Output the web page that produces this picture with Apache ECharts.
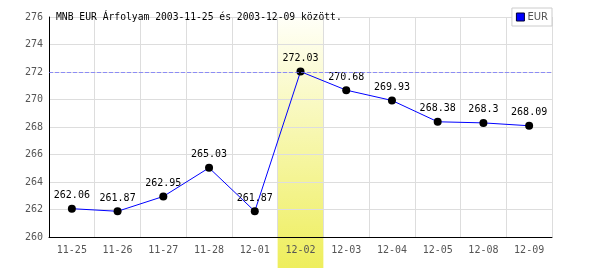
<!DOCTYPE html>
<html><head><meta charset="utf-8">
<script src="https://cdn.jsdelivr.net/npm/echarts@6/dist/echarts.min.js"></script>
<style>html,body{margin:0;padding:0;background:#fff}#c{width:600px;height:270px}</style>
</head><body><div id="c"></div>
<script>
const categories = ['11-25','11-26','11-27','11-28','12-01','12-02','12-03','12-04','12-05','12-08','12-09'];
const eurValues = [262.06,261.87,262.95,265.03,261.87,272.03,270.68,269.93,268.38,268.3,268.09];
const yTicks = {min:260, max:276, interval:2};
const referenceLineValue = 272;
const highlightCategory = '12-02';
const titleText = 'MNB EUR Árfolyam 2003-11-25 és 2003-12-09 között.';
const seriesName = 'EUR';

const mono = 'DejaVu Sans Mono';
const chart = echarts.init(document.getElementById('c'), null, {renderer:'canvas'});
const option = {
  backgroundColor: 'transparent',
  animation: false,
  title: {text: titleText, left: 51, top: 7, textStyle:{fontFamily: mono, fontSize: 9.7, fontWeight:'normal', color:'#000'}},
  legend: {data:[{name:seriesName, itemStyle:{color:'#0000ff', borderColor:'#000033', borderWidth:1}}], right: 48, top: 8, orient:'vertical', backgroundColor:'#fff', borderColor:'#ccc', borderWidth:1, padding:[4,4,4,4],
    itemWidth:8, itemHeight:8, itemGap:4, icon:'rect',
    textStyle:{fontFamily:'DejaVu Sans', fontSize:10, color:'#555', padding:[0,0,0,-2]}},
  grid: {left: 49, right: 48, top: 17, bottom: 33},
  xAxis: {type:'category', data: categories, boundaryGap:true,
    axisLine:{lineStyle:{color:'#000', width:1}}, axisTick:{show:false},
    axisLabel:{fontFamily: mono, fontSize: 10, color:'#555', margin: 8},
    splitLine:{show:true, lineStyle:{color:'#ddd'}}},
  yAxis: {type:'value', min:yTicks.min, max:yTicks.max, interval:yTicks.interval,
    axisLine:{show:true, lineStyle:{color:'#000', width:1}}, axisTick:{show:false},
    axisLabel:{fontFamily: mono, fontSize: 10, color:'#555', margin: 6},
    splitLine:{show:true, lineStyle:{color:'#ddd'}}},
  series: [{
    name:'refline', type:'line', data:[], color:'#6a6aff', silent:true,
    markLine:{silent:true, symbol:'none', label:{show:false}, precision:0,
      lineStyle:{color:'#6a6aff', type:'dashed', width:1, opacity:0.7},
      data:[{yAxis: referenceLineValue}]}
  },{
    name: seriesName, type:'line', data: eurValues,
    itemStyle:{color:'#000', borderWidth:0},
    lineStyle:{color:'#0000ff', width:1},
    symbol:'circle', symbolSize:8,
    emphasis:{disabled:true},
    label:{show:true, position:'top', distance:4, fontFamily: mono, fontSize: 10, color:'#000'}
  }]
};
chart.setOption(option);
// highlight band computed from the category axis
const idx = categories.indexOf(highlightCategory);
const p0 = chart.convertToPixel({xAxisIndex:0}, categories[idx]);
const p1 = chart.convertToPixel({xAxisIndex:0}, categories[idx+1]);
const bw = p1 - p0;
const topY = chart.convertToPixel({yAxisIndex:0}, yTicks.max);
chart.setOption({graphic:[{type:'rect', z:-10, silent:true,
  shape:{x: p0 - bw/2, y: topY, width: bw, height: 270 - topY - 2},
  style:{fill: new echarts.graphic.LinearGradient(0,0,0,1,[{offset:0,color:'#fffff8'},{offset:1,color:'#eeee5c'}])}}]});
</script></body></html>
